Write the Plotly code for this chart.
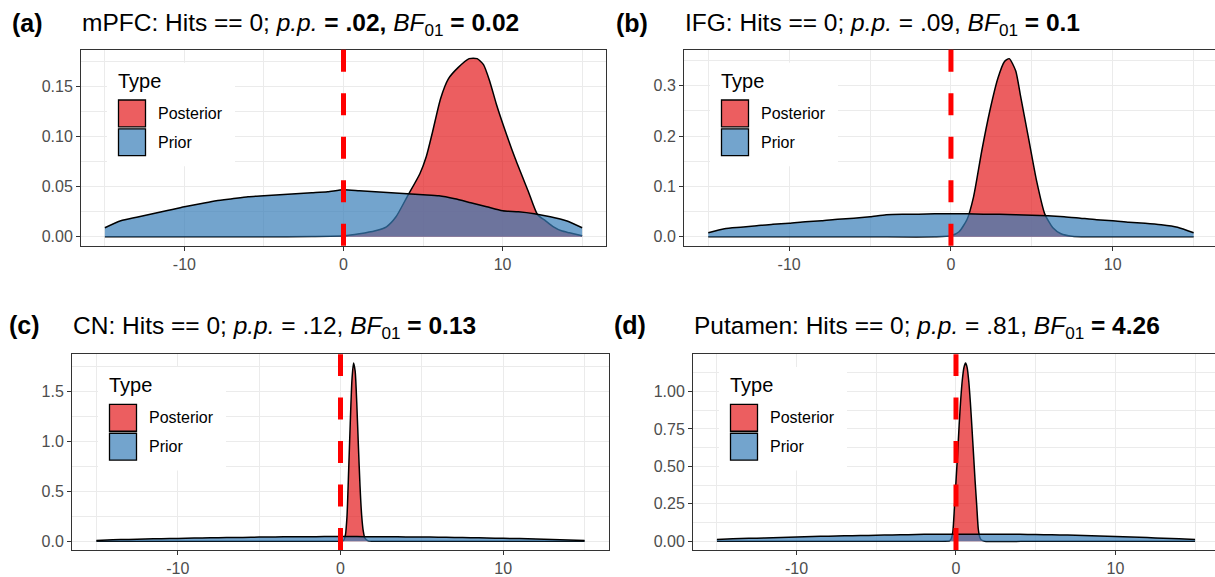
import plotly.graph_objects as go

W, H = 1215, 577

# ---------------- data ----------------
prior_x = list(range(-15, 16))

prior_a = [0.009, 0.016, 0.0195, 0.023, 0.0265, 0.030, 0.033, 0.036, 0.038, 0.040, 0.041, 0.042,
           0.043, 0.044, 0.045, 0.047, 0.046, 0.045, 0.044, 0.043, 0.042, 0.041, 0.038, 0.034,
           0.030, 0.026, 0.025, 0.023, 0.020, 0.016, 0.009]
post_a_x = [-15, -10, -5, -2, 0, 1, 2, 2.7, 3.3, 4.0, 4.8, 5.2, 5.6, 6.1, 6.6, 7.2, 7.9, 8.4,
            8.8, 9.2, 9.6, 10.1, 10.8, 11.6, 12.2, 12.7, 13.2, 13.7, 14.2, 15]
post_a_y = [0, 0, 0, 0.0003, 0.001, 0.003, 0.006, 0.010, 0.020, 0.040, 0.063, 0.080, 0.105,
            0.138, 0.158, 0.169, 0.178, 0.178, 0.172, 0.155, 0.133, 0.109, 0.078, 0.046, 0.022,
            0.016, 0.010, 0.006, 0.004, 0.001]

prior_b = [0.008, 0.016, 0.019, 0.022, 0.025, 0.027, 0.030, 0.032, 0.035, 0.037, 0.040, 0.044,
           0.045, 0.045, 0.046, 0.046, 0.046, 0.045, 0.045, 0.044, 0.043, 0.042, 0.040, 0.037,
           0.034, 0.032, 0.029, 0.027, 0.024, 0.019, 0.008]
post_b_x = [-15, -10, -5, -1, 0, 0.5, 1.0, 1.4, 1.9, 2.4, 2.9, 3.3, 3.6, 4.0, 4.3, 4.8, 5.3,
            5.8, 6.3, 6.8, 7.5, 8.5, 10, 15]
post_b_y = [0, 0, 0, 0, 0.002, 0.010, 0.035, 0.080, 0.170, 0.250, 0.315, 0.348, 0.354, 0.330,
            0.280, 0.195, 0.110, 0.045, 0.018, 0.006, 0.001, 0, 0, 0]

prior_c = [0.008, 0.014, 0.018, 0.022, 0.025, 0.028, 0.031, 0.034, 0.036, 0.038, 0.041, 0.043,
           0.044, 0.045, 0.046, 0.046, 0.046, 0.045, 0.044, 0.043, 0.042, 0.040, 0.037, 0.035,
           0.032, 0.029, 0.026, 0.022, 0.018, 0.013, 0.007]
post_c_x = [-15, -10, -5, -1, 0, 0.2, 0.3, 0.4, 0.5, 0.6, 0.7, 0.8, 0.9, 1.0, 1.1, 1.2, 1.3,
            1.4, 1.5, 1.7, 2.0, 5, 10, 15]
post_c_y = [0, 0, 0, 0, 0, 0.01, 0.06, 0.25, 0.70, 1.18, 1.60, 1.78, 1.70, 1.38, 0.95, 0.55,
            0.26, 0.10, 0.03, 0.003, 0, 0, 0, 0]

prior_d = [0.012, 0.016, 0.019, 0.022, 0.025, 0.028, 0.031, 0.034, 0.036, 0.038, 0.040, 0.042,
           0.044, 0.046, 0.047, 0.047, 0.047, 0.047, 0.046, 0.046, 0.045, 0.043, 0.041, 0.038,
           0.035, 0.032, 0.028, 0.024, 0.020, 0.016, 0.011]
post_d_x = [-15, -10, -5, -1, -0.4, -0.3, -0.2, -0.1, 0.0, 0.1, 0.2, 0.3, 0.4, 0.5, 0.6, 0.7,
            0.8, 0.9, 1.0, 1.1, 1.2, 1.3, 1.4, 1.5, 1.6, 1.8, 5, 10, 15]
post_d_y = [0, 0, 0, 0, 0.003, 0.015, 0.06, 0.22, 0.40, 0.58, 0.78, 0.95, 1.08, 1.16, 1.19,
            1.16, 1.07, 0.93, 0.76, 0.58, 0.40, 0.24, 0.08, 0.025, 0.008, 0, 0, 0, 0]

x_major = [-10, 0, 10]
x_minor = [-15, -5, 5, 15]
y_ticks = {
    "a": [0.00, 0.05, 0.10, 0.15],
    "b": [0.0, 0.1, 0.2, 0.3],
    "c": [0.0, 0.5, 1.0, 1.5],
    "d": [0.00, 0.25, 0.50, 0.75, 1.00],
}
y_ticktext = {
    "a": ["0.00", "0.05", "0.10", "0.15"],
    "b": ["0.0", "0.1", "0.2", "0.3"],
    "c": ["0.0", "0.5", "1.0", "1.5"],
    "d": ["0.00", "0.25", "0.50", "0.75", "1.00"],
}
labels = ["(a)", "(b)", "(c)", "(d)"]
titles = [
    "mPFC: Hits == 0; <i>p.p.</i><b> = .02,</b> <i>BF</i><sub>01</sub><b> = 0.02</b>",
    "IFG: Hits == 0; <i>p.p.</i> = .09, <i>BF</i><sub>01</sub><b> = 0.1</b>",
    "CN: Hits == 0; <i>p.p.</i> = .12, <i>BF</i><sub>01</sub><b> = 0.13</b>",
    "Putamen: Hits == 0; <i>p.p.</i> = .81, <i>BF</i><sub>01</sub><b> = 4.26</b>",
]
series = {
    "a": (post_a_x, post_a_y, prior_a),
    "b": (post_b_x, post_b_y, prior_b),
    "c": (post_c_x, post_c_y, prior_c),
    "d": (post_d_x, post_d_y, prior_d),
}

# ---------------- styling / layout ----------------
FONT = "Liberation Sans, Arial, Helvetica, sans-serif"
RED_FILL = "rgba(228,26,28,0.7)"
BLUE_FILL = "rgba(55,126,184,0.7)"
GRID = "#EBEBEB"
BORDER = "#333333"

# panel boxes in pixels: left, right, top, bottom, x-range
panels = {
    "a": dict(l=81, r=606, t=50, b=247, xr=[-16.5, 16.5], lab_x=27, title_y=23, rb=True),
    "b": dict(l=684, r=1215, t=50, b=247, xr=[-16.5, 16.32], lab_x=632, title_y=23, rb=False),
    "c": dict(l=72, r=609, t=356, b=553, xr=[-16.5, 16.5], lab_x=24, title_y=327, rb=True),
    "d": dict(l=693, r=1215, t=356, b=553, xr=[-16.5, 16.25], lab_x=630, title_y=327, rb=False),
}


def pxx(v):
    return v / W


def pxy(v):
    return 1 - v / H


fig = go.Figure()
shapes = []
annotations = []

for i, key in enumerate(["a", "b", "c", "d"]):
    p = panels[key]
    n = "" if i == 0 else str(i + 1)
    xa, ya = "x" + n, "y" + n
    px_, py_, pr_ = series[key]

    fig.add_trace(go.Scatter(
        x=px_, y=py_, xaxis=xa, yaxis=ya, mode="lines", name="Posterior",
        line=dict(color="black", width=1.5, shape="spline", smoothing=0.6),
        fill="tozeroy", fillcolor=RED_FILL, showlegend=False, hoverinfo="skip"))
    fig.add_trace(go.Scatter(
        x=prior_x, y=pr_, xaxis=xa, yaxis=ya, mode="lines", name="Prior",
        line=dict(color="black", width=1.5, shape="spline", smoothing=0.6),
        fill="tozeroy", fillcolor=BLUE_FILL, showlegend=False, hoverinfo="skip"))

    ymax = max(max(py_), max(pr_))
    yr = [-0.05 * ymax, 1.05 * ymax]
    yt = y_ticks[key]
    step = yt[1] - yt[0]
    yminor = [v + step / 2 for v in yt] + [yt[0] - step / 2]

    common = dict(
        showline=True, mirror=True, linecolor=BORDER, linewidth=1,
        ticks="outside", ticklen=4, tickcolor=BORDER, tickwidth=1,
        showgrid=True, gridcolor=GRID, gridwidth=1.1, zeroline=False,
        tickfont=dict(family=FONT, size=16, color="#4D4D4D"),
        minor=dict(showgrid=True, gridcolor=GRID, gridwidth=0.6, ticks=""),
        fixedrange=True,
    )
    fig.update_layout({
        "xaxis" + n: dict(common, domain=[pxx(p["l"]), pxx(p["r"])], range=p["xr"],
                          anchor=ya, tickvals=x_major, ticktext=[str(v) for v in x_major],
                          minor=dict(common["minor"], tickvals=x_minor)),
        "yaxis" + n: dict(common, domain=[pxy(p["b"]), pxy(p["t"])], range=yr,
                          anchor=xa, tickvals=yt, ticktext=y_ticktext[key],
                          mirror=p["rb"],
                          minor=dict(common["minor"], tickvals=yminor)),
    })

    # red dashed reference line at 0
    shapes.append(dict(type="line", xref=xa, yref=ya + " domain", x0=0, x1=0, y0=0, y1=1,
                       line=dict(color="#FF0000", width=5, dash="22px,21.5px"), layer="above"))

    # legend drawn inside the panel
    L, T = p["l"], p["t"]
    shapes.append(dict(type="rect", xref="paper", yref="paper",
                       x0=pxx(L + 26), x1=pxx(L + 154), y0=pxy(T + 117), y1=pxy(T + 13),
                       fillcolor="white", line=dict(width=0), layer="above"))
    shapes.append(dict(type="rect", xref="paper", yref="paper",
                       x0=pxx(L + 37.5), x1=pxx(L + 64.5), y0=pxy(T + 77.5), y1=pxy(T + 50.5),
                       fillcolor=RED_FILL, line=dict(color="black", width=1.3), layer="above"))
    shapes.append(dict(type="rect", xref="paper", yref="paper",
                       x0=pxx(L + 37.5), x1=pxx(L + 64.5), y0=pxy(T + 106.5), y1=pxy(T + 79.5),
                       fillcolor=BLUE_FILL, line=dict(color="black", width=1.3), layer="above"))
    annotations.append(dict(text="Type", xref="paper", yref="paper", x=pxx(L + 35),
                            y=pxy(T + 31), xanchor="left", yanchor="middle", showarrow=False,
                            font=dict(family=FONT, size=20, color="black")))
    annotations.append(dict(text="Posterior", xref="paper", yref="paper", x=pxx(L + 75),
                            y=pxy(T + 64), xanchor="left", yanchor="middle", showarrow=False,
                            font=dict(family=FONT, size=16, color="black")))
    annotations.append(dict(text="Prior", xref="paper", yref="paper", x=pxx(L + 75),
                            y=pxy(T + 93), xanchor="left", yanchor="middle", showarrow=False,
                            font=dict(family=FONT, size=16, color="black")))

    # titles
    annotations.append(dict(text="<b>" + labels[i] + "</b>", xref="paper", yref="paper",
                            x=pxx(p["lab_x"]), y=pxy(p["title_y"]), xanchor="center",
                            yanchor="middle", showarrow=False,
                            font=dict(family=FONT, size=25, color="black")))
    annotations.append(dict(text=titles[i], xref="paper", yref="paper", x=pxx(L - 1),
                            y=pxy(p["title_y"] + 2), xanchor="left", yanchor="middle",
                            showarrow=False, font=dict(family=FONT, size=24.5, color="black")))

fig.update_layout(
    width=W, height=H, margin=dict(l=0, r=0, t=0, b=0),
    paper_bgcolor="white", plot_bgcolor="white",
    font=dict(family=FONT, color="black"),
    shapes=shapes, annotations=annotations, showlegend=False,
)

fig.write_html("out.html", config={"displayModeBar": False},
               post_script="document.body.style.margin='0';document.body.style.padding='0';")
